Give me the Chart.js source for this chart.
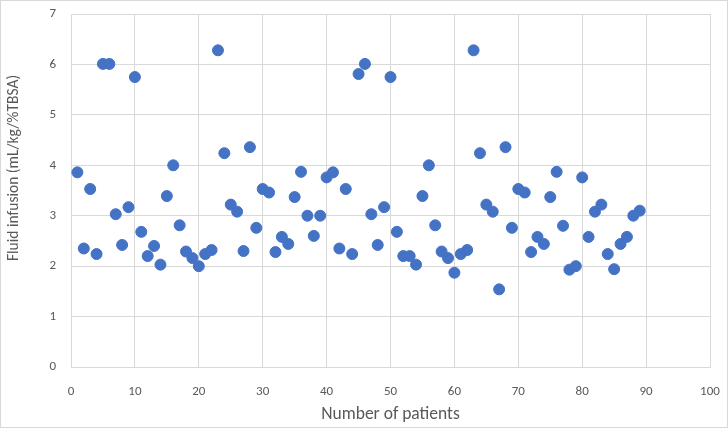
<!DOCTYPE html>
<html>
<head>
<meta charset="utf-8">
<script src="https://cdn.jsdelivr.net/npm/chart.js@4/dist/chart.umd.min.js"></script>
<style>
  body { margin: 0; background: #fff; }
  #wrap { width: 726px; height: 426px; border: 1px solid #d9d9d9; }
</style>
</head>
<body>
<div id="wrap"><canvas id="chart" width="726" height="426"></canvas></div>
<script>
// patient number 1..89 and fluid infusion per patient
const patients = [
  1, 2, 3, 4, 5, 6, 7, 8, 9, 10, 11, 12, 13, 14, 15, 16, 17, 18, 19, 20,
  21, 22, 23, 24, 25, 26, 27, 28, 29, 30, 31, 32, 33, 34, 35, 36, 37, 38, 39, 40,
  41, 42, 43, 44, 45, 46, 47, 48, 49, 50, 51, 52, 53, 54, 55, 56, 57, 58, 59, 60,
  61, 62, 63, 64, 65, 66, 67, 68, 69, 70, 71, 72, 73, 74, 75, 76, 77, 78, 79, 80,
  81, 82, 83, 84, 85, 86, 87, 88, 89
];
const fluid = [
  3.86, 2.35, 3.53, 2.24, 6.01, 6.01, 3.03, 2.42, 3.17, 5.75,
  2.68, 2.20, 2.40, 2.03, 3.39, 4.00, 2.81, 2.29, 2.16, 2.00,
  2.24, 2.32, 6.28, 4.24, 3.22, 3.08, 2.30, 4.36, 2.76, 3.53,
  3.46, 2.28, 2.58, 2.44, 3.37, 3.87, 3.00, 2.60, 3.00, 3.76,
  3.86, 2.35, 3.53, 2.24, 5.81, 6.01, 3.03, 2.42, 3.17, 5.75,
  2.68, 2.20, 2.20, 2.03, 3.39, 4.00, 2.81, 2.29, 2.16, 1.87,
  2.24, 2.32, 6.28, 4.24, 3.22, 3.08, 1.54, 4.36, 2.76, 3.53,
  3.46, 2.28, 2.58, 2.44, 3.37, 3.87, 2.80, 1.93, 2.00, 3.76,
  2.58, 3.08, 3.22, 2.24, 1.94, 2.44, 2.58, 3.00, 3.10
];
const xTitle = "Number of patients";
const yTitle = "Fluid infusion (mL/kg/%TBSA)";

const points = patients.map((p, i) => ({ x: p, y: fluid[i] }));

const family = "Carlito, 'Liberation Sans', Arial, sans-serif";
const tickFont = { family: family, size: 13 };

// excel puts the y title a bit above the plot centre, so draw it by hand
const yTitlePlugin = {
  id: "yTitle",
  afterDraw(chart) {
    const ctx = chart.ctx;
    ctx.save();
    ctx.translate(13, 167);
    ctx.rotate(-Math.PI / 2);
    ctx.font = "15.5px " + family;
    ctx.fillStyle = "#595959";
    ctx.textAlign = "center";
    ctx.textBaseline = "middle";
    ctx.fillText(yTitle, 0, 0);
    ctx.restore();
  },
};

new Chart(document.getElementById("chart"), {
  type: "scatter",
  data: {
    datasets: [{
      data: points,
      backgroundColor: "#4472C4",
      borderColor: "#4472C4",
      pointRadius: 5.5,
      pointHoverRadius: 5.5,
    }],
  },
  options: {
    responsive: false,
    animation: false,
    layout: { padding: { top: 13, right: 17, left: 0, bottom: 0 } },
    plugins: {
      legend: { display: false },
      tooltip: { enabled: false },
    },
    scales: {
      x: {
        type: "linear",
        min: 0,
        max: 100,
        ticks: { stepSize: 10, color: "#595959", font: tickFont, padding: 17 },
        grid: { color: "#d9d9d9", drawTicks: false },
        border: { color: "#d9d9d9" },
        title: { display: true, text: xTitle, color: "#595959", font: { family: family, size: 17.5 }, padding: { top: 4, bottom: 2 } },
        afterFit: (s) => { s.height = 60; s.paddingLeft = 0; s.paddingRight = 0; },
      },
      y: {
        min: 0,
        max: 7,
        ticks: { stepSize: 1, color: "#595959", font: tickFont, padding: 15 },
        grid: { color: "#d9d9d9", drawTicks: false },
        border: { color: "#d9d9d9" },
        afterFit: (s) => { s.width = 70; s.paddingTop = 0; s.paddingBottom = 0; },
      },
    },
  },
  plugins: [yTitlePlugin],
});
</script>
</body>
</html>
